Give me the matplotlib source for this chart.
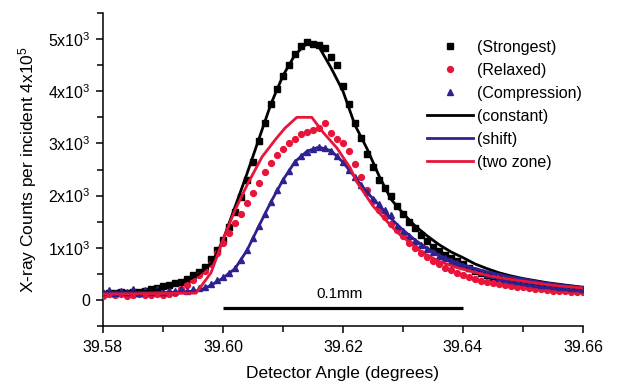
import matplotlib
matplotlib.use("Agg")
import matplotlib.pyplot as plt
from matplotlib.ticker import MultipleLocator
import numpy as np

plt.rcParams['font.family'] = ['Liberation Sans', 'DejaVu Sans']
plt.rcParams['mathtext.fontset'] = 'custom'
plt.rcParams['mathtext.rm'] = 'Liberation Sans'
plt.rcParams['mathtext.it'] = 'Liberation Sans:italic'
plt.rcParams['mathtext.bf'] = 'Liberation Sans:bold'

# ---- data -------------------------------------------------------------
angle = np.round(np.arange(39.579, 39.6615, 0.001), 3)   # 83 measured angles

strongest = [150, 120, 140, 130, 150, 140, 160, 150, 170, 200,
             230, 260, 280, 330, 350, 400, 480, 540, 630, 780,
             960, 1150, 1400, 1680, 1980, 2300, 2650, 3050, 3400, 3750,
             4050, 4300, 4500, 4720, 4860, 4950, 4900, 4880, 4820, 4650,
             4500, 4100, 3750, 3400, 3100, 2800, 2550, 2300, 2150, 2000,
             1800, 1650, 1500, 1380, 1250, 1120, 1020, 940, 870, 800,
             740, 680, 620, 560, 510, 470, 440, 410, 380, 360,
             340, 320, 300, 290, 270, 260, 250, 240, 230, 220,
             210, 200, 190]

relaxed = [100, 80, 120, 90, 110, 80, 100, 120, 90, 100,
           110, 90, 120, 130, 200, 280, 380, 470, 560, 680,
           900, 1100, 1280, 1480, 1650, 1850, 2050, 2250, 2450, 2620,
           2780, 2900, 3000, 3080, 3180, 3220, 3260, 3300, 3390, 3200,
           3080, 3000, 2850, 2600, 2350, 2100, 1900, 1720, 1580, 1460,
           1340, 1220, 1100, 1000, 900, 820, 750, 680, 620, 570,
           520, 480, 440, 400, 370, 340, 320, 300, 280, 260,
           250, 240, 220, 210, 200, 190, 180, 170, 170, 160,
           150, 150, 140]

compression = [170, 150, 190, 140, 180, 150, 200, 140, 190, 160,
               200, 150, 190, 170, 200, 180, 210, 220, 250, 300,
               380, 440, 520, 620, 760, 960, 1180, 1420, 1650, 1880,
               2100, 2300, 2480, 2640, 2750, 2840, 2900, 2940, 2920, 2850,
               2760, 2650, 2500, 2350, 2200, 2060, 1940, 1840, 1730, 1620,
               1420, 1320, 1220, 1130, 1050, 980, 910, 850, 800, 750,
               700, 650, 610, 570, 530, 500, 470, 440, 410, 390,
               370, 350, 330, 310, 290, 280, 260, 250, 240, 230,
               220, 210, 200]

constant_x = [39.579, 39.584, 39.588, 39.590, 39.592, 39.594, 39.596, 39.598, 39.599,
              39.600, 39.602, 39.604, 39.606, 39.608, 39.610, 39.612, 39.614, 39.616, 39.618,
              39.620, 39.622, 39.624, 39.626, 39.628, 39.630, 39.632, 39.634, 39.636, 39.638,
              39.640, 39.642, 39.644, 39.646, 39.648, 39.650, 39.652, 39.654, 39.656, 39.658,
              39.660, 39.661]
constant_y = [140, 145, 170, 210, 280, 370, 500, 700, 900,
              1150, 1780, 2420, 3090, 3760, 4300, 4700, 4920, 4850, 4450,
              4000, 3350, 2900, 2380, 1930, 1660, 1420, 1230, 1060, 920,
              810, 690, 600, 520, 460, 410, 370, 330, 300, 270,
              240, 230]

shift_x = [39.579, 39.592, 39.596, 39.598,
           39.600, 39.602, 39.604, 39.606, 39.608, 39.610, 39.612, 39.614, 39.616, 39.618,
           39.620, 39.622, 39.624, 39.626, 39.628, 39.630, 39.632, 39.634, 39.636, 39.638,
           39.640, 39.642, 39.644, 39.646, 39.648, 39.650, 39.652, 39.654, 39.656, 39.658,
           39.660, 39.661]
shift_y = [140, 140, 180, 280,
           420, 600, 950, 1420, 1880, 2300, 2650, 2850, 2930, 2860,
           2640, 2350, 2060, 1820, 1560, 1340, 1150, 990, 860, 760,
           670, 600, 540, 490, 440, 400, 360, 320, 290, 260,
           240, 230]

twozone_x = [39.579, 39.5955, 39.598, 39.600, 39.602, 39.604, 39.6065, 39.6087, 39.6103, 39.6123,
             39.6148, 39.6167, 39.619, 39.6212, 39.6223, 39.625, 39.628, 39.6295, 39.6333, 39.636,
             39.639, 39.642, 39.6445, 39.647, 39.650, 39.653, 39.6557, 39.661]
twozone_y = [110, 130, 520, 1150, 1720, 2200, 2740, 3070, 3290, 3500,
             3500, 3210, 2910, 2530, 2260, 1800, 1420, 1250, 900, 740,
             620, 530, 460, 410, 360, 310, 270, 220]

scale_bar_x = [39.60, 39.64]
scale_bar_y = [-150, -150]

yticks = [0, 1000, 2000, 3000, 4000, 5000]
ytick_labels = ['0', '1x10$^{3}$', '2x10$^{3}$', '3x10$^{3}$', '4x10$^{3}$', '5x10$^{3}$']
xticks = [39.58, 39.60, 39.62, 39.64, 39.66]
xtick_labels = ['39.58', '39.60', '39.62', '39.64', '39.66']

# ---- style --------------------------------------------------------------
RED = '#E8153A'
NAVY = '#2E2190'
FS = 11.5

fig = plt.figure(figsize=(6.21, 3.83), dpi=100)
ax = fig.add_axes([103/621, 1 - 326/383, 480/621, 313/383])

ax.plot(angle, strongest, ls='none', marker='s', ms=4.2, color='black', mec='black', label='(Strongest)', zorder=3)
ax.plot(angle, relaxed, ls='none', marker='o', ms=4.2, color=RED, mec=RED, label='(Relaxed)', zorder=3)
ax.plot(angle, compression, ls='none', marker='^', ms=5.0, color=NAVY, mec=NAVY, label='(Compression)', zorder=3)
ax.plot(constant_x, constant_y, color='black', lw=2.0, label='(constant)', zorder=4)
ax.plot(shift_x, shift_y, color=NAVY, lw=2.0, label='(shift)', zorder=4)
ax.plot(twozone_x, twozone_y, color=RED, lw=2.0, label='(two zone)', zorder=5)

ax.plot(scale_bar_x, scale_bar_y, color='black', lw=2.3, solid_capstyle='butt', zorder=2)
ax.text(np.mean(scale_bar_x) - 0.0005, 120, '0.1mm', ha='center', va='center', fontsize=11)

ax.set_xlim(39.58, 39.66)
ax.set_ylim(-500, 5500)
ax.set_xticks(xticks)
ax.set_xticklabels(xtick_labels, fontsize=FS)
ax.xaxis.set_minor_locator(MultipleLocator(0.01))
ax.set_yticks(yticks)
ax.set_yticklabels(ytick_labels, fontsize=FS)
ax.yaxis.set_minor_locator(MultipleLocator(500))
ax.tick_params(which='both', direction='out', width=1.1, length=5)
ax.tick_params(which='minor', length=4)
ax.tick_params(axis='x', pad=5)
ax.tick_params(axis='y', pad=4)

for s in ('top', 'right'):
    ax.spines[s].set_visible(False)
for s in ('left', 'bottom'):
    ax.spines[s].set_linewidth(1.1)

ax.set_xlabel('Detector Angle (degrees)', fontsize=12.5)
ax.xaxis.set_label_coords(0.5, (326 - 366) / 313)
ax.set_ylabel('X-ray Counts per incident 4x10$^{5}$', fontsize=12.5)
ax.yaxis.set_label_coords((39 - 103) / 480, 0.5)

leg = fig.legend(loc='upper left', bbox_to_anchor=(427/621, 1 - 40/383),
                 bbox_transform=fig.transFigure, frameon=False, fontsize=FS,
                 numpoints=1, handlelength=2.9, handletextpad=0.25,
                 labelspacing=0.5, borderpad=0, borderaxespad=0)

fig.savefig('out.png', dpi=100)
